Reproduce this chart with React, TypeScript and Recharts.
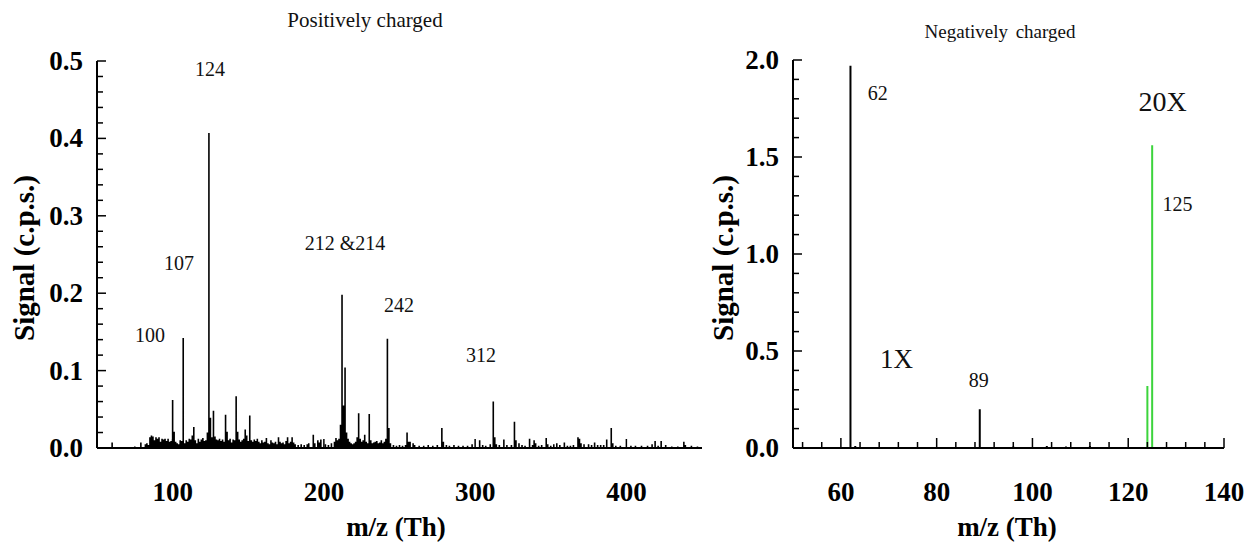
import React from "react";
import { ComposedChart, Line, XAxis, YAxis, ReferenceDot } from "recharts";

// positive ion spectrum, [m/z, signal c.p.s.]
const posPeaks: [number, number][] = [
  [100, 0.062], [101, 0.021], [107, 0.142], [114, 0.027], [124, 0.407], [125, 0.039],
  [127, 0.048], [135, 0.043], [136, 0.021], [142, 0.067], [143, 0.021], [148, 0.024],
  [151, 0.042], [212, 0.198], [213, 0.055], [214, 0.104], [215, 0.02], [223, 0.045],
  [227, 0.017], [230, 0.044], [242, 0.141], [243, 0.026], [255, 0.02], [278, 0.026],
  [312, 0.06], [313, 0.014], [326, 0.034], [390, 0.026],
];

const posNoise: [number, number][] = [
  [60, 0.007], [75, 0.002], [79, 0.007], [82, 0.005], [83, 0.006], [84, 0.004], [85, 0.014],
  [86, 0.016], [87, 0.015], [88, 0.01], [89, 0.014], [90, 0.012], [91, 0.014], [92, 0.008],
  [93, 0.012], [94, 0.011], [95, 0.012], [96, 0.009], [97, 0.012], [98, 0.008], [99, 0.009],
  [102, 0.008], [103, 0.006], [104, 0.005], [105, 0.01], [106, 0.009], [108, 0.006],
  [109, 0.01], [110, 0.008], [111, 0.012], [112, 0.011], [113, 0.016], [115, 0.01],
  [116, 0.006], [117, 0.012], [118, 0.008], [119, 0.011], [120, 0.013], [121, 0.009],
  [122, 0.01], [123, 0.02], [126, 0.014], [128, 0.015], [129, 0.011], [130, 0.01],
  [131, 0.012], [132, 0.009], [133, 0.011], [134, 0.008], [137, 0.01], [138, 0.012],
  [139, 0.007], [140, 0.011], [141, 0.01], [144, 0.011], [145, 0.008], [146, 0.01],
  [147, 0.012], [149, 0.016], [150, 0.009], [152, 0.01], [153, 0.008], [154, 0.011],
  [155, 0.009], [156, 0.012], [157, 0.008], [158, 0.006], [159, 0.01], [160, 0.007],
  [161, 0.008], [162, 0.013], [163, 0.006], [164, 0.005], [165, 0.01], [166, 0.007],
  [167, 0.006], [168, 0.008], [169, 0.005], [170, 0.014], [171, 0.008], [172, 0.006],
  [173, 0.007], [174, 0.005], [175, 0.009], [176, 0.014], [177, 0.006], [178, 0.008],
  [179, 0.014], [180, 0.007], [181, 0.005], [183, 0.004], [185, 0.005], [187, 0.004],
  [189, 0.005], [190, 0.006], [193, 0.017], [194, 0.006], [196, 0.01], [197, 0.007],
  [198, 0.011], [201, 0.005], [203, 0.004], [205, 0.006], [207, 0.008], [208, 0.013],
  [209, 0.01], [210, 0.012], [211, 0.03], [216, 0.012], [217, 0.008], [218, 0.006],
  [219, 0.005], [220, 0.006], [221, 0.008], [222, 0.014], [224, 0.012], [225, 0.008],
  [226, 0.01], [228, 0.008], [229, 0.006], [231, 0.01], [232, 0.006], [233, 0.007],
  [234, 0.008], [235, 0.009], [236, 0.006], [237, 0.007], [238, 0.01], [239, 0.006],
  [240, 0.008], [241, 0.012], [244, 0.006], [246, 0.004], [248, 0.003], [250, 0.004],
  [252, 0.003], [254, 0.004], [256, 0.008], [257, 0.008], [259, 0.006], [260, 0.004],
  [263, 0.003], [266, 0.003], [269, 0.004], [272, 0.003], [275, 0.004], [279, 0.008],
  [281, 0.004], [283, 0.003], [286, 0.004], [289, 0.003], [292, 0.003], [295, 0.003],
  [298, 0.005], [303, 0.01], [305, 0.004], [307, 0.003], [310, 0.005], [314, 0.005],
  [316, 0.004], [319, 0.011], [321, 0.004], [324, 0.004], [327, 0.01], [329, 0.006],
  [331, 0.004], [333, 0.003], [336, 0.012], [338, 0.004], [339, 0.01], [340, 0.006],
  [342, 0.003], [344, 0.004], [347, 0.013], [348, 0.005], [350, 0.003], [352, 0.005],
  [354, 0.006], [356, 0.004], [359, 0.007], [361, 0.003], [363, 0.003], [365, 0.004],
  [368, 0.014], [369, 0.012], [370, 0.006], [372, 0.005], [375, 0.005], [377, 0.004],
  [379, 0.007], [381, 0.004], [383, 0.004], [385, 0.004], [387, 0.011], [391, 0.006],
  [393, 0.003], [396, 0.003], [403, 0.003], [406, 0.003], [410, 0.003], [414, 0.003],
  [417, 0.005], [419, 0.009], [421, 0.003], [423, 0.009], [426, 0.004], [430, 0.002],
  [434, 0.002], [438, 0.008], [439, 0.004], [443, 0.003], [447, 0.002],
];

// negative ions: 1X trace (black) and 20X trace (green)
const neg1X: [number, number][] = [
  [62, 1.97], [63, 0.01], [89, 0.2], [96, 0.008], [103, 0.01], [107, 0.008], [112, 0.01],
];
const neg20X: [number, number][] = [[124, 0.32], [125, 1.56]];

const posLabels = [
  { mz: 124.7, s: 0.49, text: "124" },
  { mz: 104.2, s: 0.239, text: "107" },
  { mz: 85, s: 0.146, text: "100" },
  { mz: 214, s: 0.265, text: "212 &214" },
  { mz: 249.7, s: 0.185, text: "242" },
  { mz: 303.9, s: 0.12, text: "312" },
];
const negLabels = [
  { mz: 67.7, s: 1.83, text: "62", size: 20 },
  { mz: 127.2, s: 1.79, text: "20X", size: 28 },
  { mz: 130.3, s: 1.26, text: "125", size: 20 },
  { mz: 71.6, s: 0.46, text: "1X", size: 27 },
  { mz: 88.8, s: 0.35, text: "89", size: 20 },
];

const leftXTicks = [100, 200, 300, 400];
const leftYTicks = Array.from({ length: 26 }, (_, i) => +(i * 0.02).toFixed(2));
const rightXTicks = Array.from({ length: 23 }, (_, i) => 52 + i * 4);
const rightYTicks = Array.from({ length: 21 }, (_, i) => +(i * 0.1).toFixed(1));

const SERIF = "'Liberation Serif', 'Times New Roman', serif";

function sticks(peaks: [number, number][]) {
  return [...peaks]
    .sort((a, b) => a[0] - b[0])
    .flatMap(([m, v]) => [
      { mz: m, s: 0 },
      { mz: m, s: v },
      { mz: m, s: 0 },
    ]);
}

const posData = sticks([...posPeaks, ...posNoise]);
const negData1 = sticks(neg1X);
const negData20 = sticks(neg20X);

const yTick = (isMajor: (v: number) => boolean, fmt: (v: number) => string) => (p: any) => {
  const v = p.payload.value;
  const major = isMajor(v);
  return (
    <g>
      <line x1={p.x} x2={p.x + (major ? 9 : 6)} y1={p.y} y2={p.y} stroke="#000" strokeWidth={1.5} />
      {major && (
        <text x={p.x - 14} y={p.y} textAnchor="end" dominantBaseline="central" fontFamily={SERIF} fontWeight="bold" fontSize={27} fill="#000">
          {fmt(v)}
        </text>
      )}
    </g>
  );
};

const xTick = (isMajor: (v: number) => boolean, majorLen: number, minorLen: number) => (p: any) => {
  const v = p.payload.value;
  const major = isMajor(v);
  return (
    <g>
      <line x1={p.x} x2={p.x} y1={p.y} y2={p.y - (major ? majorLen : minorLen)} stroke="#000" strokeWidth={1.5} />
      {major && (
        <text x={p.x} y={p.y + 44} textAnchor="middle" dominantBaseline="central" fontFamily={SERIF} fontWeight="bold" fontSize={27} fill="#000">
          {v}
        </text>
      )}
    </g>
  );
};

const axisLine = { stroke: "#000", strokeWidth: 2 };

export default function App() {
  return (
    <div style={{ position: "absolute", left: 0, top: 0, width: 1250, height: 548, background: "#fff", overflow: "hidden" }}>
      <div style={{ position: "absolute", left: 0, top: 0 }}>
        <ComposedChart width={720} height={548} data={posData} margin={{ top: 61, right: 18, bottom: 99, left: 96 }}>
          <XAxis dataKey="mz" type="number" domain={[50, 450]} ticks={leftXTicks} interval={0} height={1}
            tickLine={false} tickSize={0} tickMargin={0} axisLine={axisLine} tick={xTick(() => true, 9, 9)} allowDataOverflow />
          <YAxis type="number" domain={[0, 0.5]} ticks={leftYTicks} interval={0} width={1}
            tickLine={false} tickSize={0} tickMargin={0} axisLine={axisLine}
            tick={yTick((v) => Math.round(v * 100) % 10 === 0, (v) => v.toFixed(1))} allowDataOverflow />
          <Line dataKey="s" stroke="#000" strokeWidth={1.6} dot={false} activeDot={false} isAnimationActive={false} />
          {posLabels.map((l) => (
            <ReferenceDot key={l.text} x={l.mz} y={l.s} r={0} fill="none" stroke="none" ifOverflow="visible"
              label={{ value: l.text, position: "center", fontSize: 20, fill: "#111", fontFamily: SERIF }} />
          ))}
        </ComposedChart>
      </div>
      <div style={{ position: "absolute", left: 720, top: 0 }}>
        <ComposedChart width={530} height={548} margin={{ top: 60, right: 26, bottom: 99, left: 72 }}>
          <XAxis dataKey="mz" type="number" domain={[50, 140]} ticks={rightXTicks} interval={0} height={1}
            tickLine={false} tickSize={0} tickMargin={0} axisLine={axisLine}
            tick={xTick((v) => v % 20 === 0, 10, 6)} allowDataOverflow />
          <YAxis type="number" domain={[0, 2]} ticks={rightYTicks} interval={0} width={1}
            tickLine={false} tickSize={0} tickMargin={0} axisLine={axisLine}
            tick={yTick((v) => Math.round(v * 10) % 5 === 0, (v) => v.toFixed(1))} allowDataOverflow />
          <Line data={negData1} dataKey="s" stroke="#000" strokeWidth={2} dot={false} activeDot={false} isAnimationActive={false} />
          <Line data={negData20} dataKey="s" stroke="#3cd43c" strokeWidth={2} dot={false} activeDot={false} isAnimationActive={false} />
          {negLabels.map((l) => (
            <ReferenceDot key={l.text} x={l.mz} y={l.s} r={0} fill="none" stroke="none" ifOverflow="visible"
              label={{ value: l.text, position: "center", fontSize: l.size, fill: "#111", fontFamily: SERIF }} />
          ))}
        </ComposedChart>
      </div>
      <svg width={1250} height={548} style={{ position: "absolute", left: 0, top: 0, pointerEvents: "none" }}>
        <g fontFamily={SERIF} fill="#111">
          <text x={365} y={20} textAnchor="middle" dominantBaseline="central" fontSize={21}>Positively charged</text>
          <text x={1000} y={31} textAnchor="middle" dominantBaseline="central" fontSize={19} wordSpacing={3}>Negatively charged</text>
          <text x={396} y={527} textAnchor="middle" dominantBaseline="central" fontSize={27} fontWeight="bold" fill="#000">m/z (Th)</text>
          <text x={1007} y={527} textAnchor="middle" dominantBaseline="central" fontSize={27} fontWeight="bold" fill="#000">m/z  (Th)</text>
          <text transform="translate(24,258) rotate(-90)" textAnchor="middle" dominantBaseline="central" fontSize={29} fontWeight="bold" fill="#000">Signal (c.p.s.)</text>
          <text transform="translate(723,258) rotate(-90)" textAnchor="middle" dominantBaseline="central" fontSize={29} fontWeight="bold" fill="#000">Signal (c.p.s.)</text>
        </g>
      </svg>
    </div>
  );
}
